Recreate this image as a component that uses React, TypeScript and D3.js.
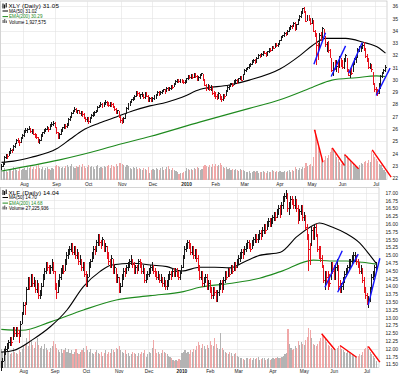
import React from "react";
import * as d3 from "d3";

const monthLabels = ["Aug", "Sep", "Oct", "Nov", "Dec", "2010", "Feb", "Mar", "Apr", "May", "Jun", "Jul"];
const monthStarts = [15, 36, 57, 79, 99, 121, 140, 159, 182, 203, 223, 245];

const xlyClose = [
  23.0,23.1,23.7,23.9,23.8,24.1,24.3,24.2,24.6,24.8,25.1,25.0,24.9,25.3,25.5,
  25.8,25.9,26.0,26.1,25.8,25.9,25.6,25.5,25.3,25.0,25.1,25.5,25.7,25.9,26.0,26.1,26.0,26.3,26.4,26.5,26.2,
  25.7,25.3,25.6,25.9,26.1,26.3,26.2,26.4,26.8,27.0,27.3,27.5,27.6,27.4,27.5,27.3,27.4,27.2,26.9,26.8,26.9,
  26.6,26.9,27.1,27.3,27.4,27.5,27.8,27.9,28.0,27.9,28.1,28.2,28.1,27.9,28.1,28.0,27.8,27.6,27.4,27.5,27.0,26.7,
  26.6,26.9,27.2,27.7,28.0,28.2,28.4,28.5,28.7,29.0,28.9,28.7,28.8,28.8,28.6,28.9,28.7,28.3,28.5,28.4,
  28.5,28.7,28.8,29.0,28.9,29.0,29.1,29.2,29.1,29.3,29.2,29.3,29.5,29.4,29.7,29.9,30.0,29.9,30.0,29.9,29.8,29.9,
  30.1,30.3,30.2,30.4,30.2,30.5,30.3,30.0,30.2,30.4,30.5,30.0,29.6,29.3,29.5,29.2,29.4,28.9,28.8,
  28.7,28.6,28.9,28.5,28.4,28.8,28.7,29.1,29.4,29.5,29.7,29.6,29.9,30.0,29.8,30.1,30.2,30.0,30.4,
  30.8,30.9,31.0,31.2,31.3,31.5,31.6,31.4,31.8,32.0,31.9,32.1,32.3,32.2,32.0,32.3,32.5,32.4,32.7,32.6,32.9,32.8,32.9,
  33.2,33.5,33.6,33.8,33.7,34.0,34.2,34.4,34.3,34.6,34.2,34.5,34.9,35.2,35.5,35.8,35.6,34.8,35.1,35.0,34.6,
  35.0,34.0,33.7,32.8,31.9,33.6,33.5,34.2,33.7,32.9,32.9,32.4,32.0,30.8,31.4,31.0,31.1,30.7,31.9,31.4,
  31.0,31.7,32.0,30.8,30.4,30.7,30.5,31.4,31.7,31.7,32.5,32.6,32.6,32.8,32.5,31.9,31.7,31.0,31.1,30.9,29.7,29.2,
  29.0,28.9,29.2,30.3,30.6,30.8,31.05,
];
const xlyHigh = [
  23.2,23.3,23.8,24.0,24.0,24.2,24.5,24.4,24.7,24.9,25.2,25.3,25.1,25.4,25.6,
  25.9,26.1,26.1,26.3,26.1,26.0,26.0,25.7,25.6,25.4,25.2,25.6,25.8,26.0,26.1,26.3,26.2,26.4,26.6,26.7,26.6,
  26.2,25.8,25.7,26.0,26.2,26.4,26.4,26.5,26.9,27.1,27.4,27.6,27.8,27.7,27.6,27.6,27.5,27.5,27.3,27.0,27.0,
  27.0,27.0,27.2,27.4,27.5,27.6,27.9,28.0,28.2,28.1,28.2,28.4,28.3,28.2,28.2,28.2,28.1,27.9,27.7,27.6,27.5,27.1,
  26.9,27.0,27.3,27.8,28.1,28.3,28.5,28.6,28.8,29.1,29.1,29.0,28.9,29.0,28.9,29.0,29.0,28.8,28.6,28.6,
  28.6,28.8,28.9,29.1,29.1,29.1,29.2,29.3,29.3,29.4,29.4,29.4,29.6,29.6,29.8,30.0,30.1,30.1,30.1,30.1,30.0,30.0,
  30.2,30.4,30.4,30.5,30.5,30.6,30.6,30.4,30.3,30.5,30.6,30.5,30.1,29.7,29.7,29.6,29.6,29.5,29.1,
  29.0,28.9,29.0,28.9,28.7,28.9,28.9,29.2,29.5,29.6,29.8,29.8,30.0,30.1,30.1,30.2,30.3,30.3,30.5,
  30.9,31.0,31.1,31.3,31.4,31.6,31.7,31.7,31.9,32.1,32.1,32.2,32.4,32.4,32.3,32.4,32.6,32.6,32.8,32.8,33.0,33.0,33.0,
  33.3,33.6,33.7,33.9,33.9,34.1,34.3,34.5,34.5,34.7,34.7,34.6,35.0,35.3,35.6,35.9,36.0,35.6,35.3,35.3,35.1,
  35.1,34.9,34.1,33.8,33.0,33.8,33.9,34.3,34.2,33.6,33.1,33.2,32.5,31.8,31.5,31.6,31.6,31.5,32.0,31.8,
  31.6,31.8,32.1,31.8,30.9,30.8,31.0,31.5,31.8,31.9,32.6,32.8,32.8,33.0,33.1,32.6,32.1,31.8,31.4,31.3,30.7,29.8,
  29.4,29.3,29.8,30.4,30.7,30.9,31.2,
];
const xlyLow = [
  22.7,22.9,23.1,23.6,23.6,23.8,24.0,24.1,24.2,24.5,24.8,24.9,24.6,24.9,25.2,
  25.4,25.7,25.7,25.9,25.7,25.6,25.5,25.3,25.2,24.9,24.8,25.0,25.4,25.6,25.8,25.9,25.8,25.9,26.2,26.3,26.1,
  25.6,25.2,25.2,25.5,25.8,26.0,26.0,26.1,26.3,26.7,26.9,27.2,27.4,27.3,27.2,27.2,27.1,27.0,26.8,26.6,26.6,
  26.4,26.5,26.8,27.0,27.1,27.3,27.4,27.7,27.8,27.7,27.8,28.0,27.9,27.8,27.8,27.8,27.7,27.5,27.2,27.2,26.9,26.5,
  26.4,26.5,26.8,27.2,27.6,27.9,28.1,28.3,28.4,28.6,28.7,28.6,28.5,28.6,28.5,28.5,28.6,28.2,28.2,28.2,
  28.2,28.4,28.5,28.7,28.7,28.8,28.9,29.0,28.9,29.0,29.1,29.1,29.2,29.3,29.4,29.6,29.8,29.8,29.8,29.8,29.7,29.7,
  29.8,30.0,30.1,30.1,30.1,30.2,30.2,29.9,29.9,30.1,30.3,29.9,29.5,29.1,29.2,29.1,29.1,28.8,28.6,
  28.5,28.4,28.5,28.4,28.2,28.3,28.5,28.7,29.0,29.2,29.4,29.4,29.6,29.8,29.7,29.8,30.0,29.9,30.0,
  30.4,30.7,30.8,30.9,31.1,31.2,31.4,31.3,31.4,31.7,31.8,31.9,32.0,32.1,31.9,32.0,32.2,32.3,32.4,32.5,32.6,32.7,32.7,
  32.9,33.2,33.4,33.5,33.6,33.7,33.9,34.1,34.2,34.3,34.0,34.1,34.5,34.8,35.1,35.4,35.5,34.7,34.8,34.8,34.5,
  34.6,33.9,33.5,31.2,31.6,32.6,33.2,33.4,33.6,32.7,32.3,32.2,31.8,30.7,30.3,30.8,30.7,30.6,31.0,31.1,
  30.9,30.9,31.5,30.7,30.3,30.2,30.4,30.7,31.2,31.4,31.8,32.3,32.3,32.5,32.4,31.8,31.5,30.9,30.9,30.7,29.6,29.0,
  28.8,28.7,28.9,29.3,30.2,30.5,30.7,
];
const xlyVolume = [
  2.2,2.0,2.4,1.8,1.6,1.9,2.0,1.7,2.6,2.1,1.9,1.8,2.3,2.0,2.2,
  2.4,2.0,2.6,2.3,2.8,2.1,2.5,2.2,2.7,3.0,2.4,2.2,2.5,2.0,2.3,2.6,2.1,1.9,2.4,2.2,2.8,
  3.0,2.7,2.5,2.3,2.6,2.4,2.8,2.9,2.5,2.7,3.1,2.6,2.4,2.8,2.5,2.9,2.6,3.2,2.7,2.4,2.6,
  3.0,2.6,2.8,2.5,2.2,2.7,2.9,2.4,2.6,2.3,2.8,2.5,2.7,2.9,2.4,3.0,2.8,2.6,3.1,2.7,3.3,3.4,
  3.2,2.9,2.6,3.0,2.7,2.4,2.2,2.5,2.3,2.6,2.1,2.4,2.2,2.0,2.3,2.1,1.9,2.6,1.4,2.0,
  2.2,2.0,2.4,2.1,1.9,2.3,2.5,2.0,2.2,2.6,2.8,2.1,1.9,2.3,2.0,1.7,1.5,1.2,1.4,1.3,1.6,1.8,
  2.3,2.1,2.0,2.2,1.9,2.4,2.1,2.6,2.3,2.0,2.2,2.8,3.0,2.7,2.5,2.9,2.6,3.2,2.8,
  3.1,2.7,2.9,3.3,3.0,2.6,2.4,2.5,2.2,2.3,2.0,2.1,1.9,2.2,2.0,1.8,2.1,1.9,2.0,
  1.8,1.6,1.5,1.7,1.4,1.6,1.8,1.5,1.7,1.4,1.6,1.5,1.8,1.6,1.4,1.7,1.5,1.6,1.9,1.7,1.5,1.8,1.6,
  1.7,1.5,1.6,1.8,1.5,1.7,1.9,1.6,2.0,1.8,2.6,2.2,2.0,2.4,2.2,2.5,2.3,3.4,2.8,3.0,3.2,
  2.8,4.6,10.0,8.6,7.0,5.8,4.6,3.6,4.0,4.8,4.4,5.0,5.6,6.4,6.0,5.2,4.6,4.2,3.6,3.2,
  3.8,5.0,4.6,4.8,4.2,3.8,3.4,3.2,2.8,2.6,2.4,3.0,3.4,3.2,3.6,3.8,3.4,4.0,3.6,5.8,5.2,4.6,
  4.2,3.8,3.2,3.0,2.4,2.0,1.6,
];
const xlyMa50 = [[0,23.3],[8,23.4],[19,23.7],[36,24.4],[45,25.2],[53,25.9],[64,26.5],[75,27.0],[86,27.5],[97,27.9],[108,28.2],[118,28.6],[130,29.25],[149,29.6],[162,30.0],[182,30.9],[195,32.0],[203,32.8],[212,33.4],[225,33.4],[236,33.1],[247,32.6],[251,32.2]];
const xlyEma200 = [[0,22.6],[38,23.5],[64,24.3],[75,24.7],[97,25.4],[130,26.6],[162,27.7],[182,28.4],[203,29.4],[216,30.0],[232,30.2],[245,30.35],[251,30.3]];
const xlyTrendLines = [[204.2,31.3,211.8,33.87],[215.5,30.29,224.9,32.79],[227.0,30.57,235.8,33.06],[244.9,28.75,254.0,30.98]];
const xlyVolumeLines = [[204.6,9.94,210.1,3.46],[216.2,6.34,224.2,2.8],[224.2,5.0,233.4,2.14],[242.3,5.94,254.7,0.46]];
const xlyTicks = [22,23,24,25,26,27,28,29,30,31,32,33,34,35,36];

const xlfClose = [
  11.5,11.6,11.9,12.0,12.0,12.2,12.3,12.2,12.6,12.5,12.6,12.5,12.4,12.8,13.1,
  13.4,13.3,13.9,14.2,14.0,14.3,14.1,14.2,13.9,14.1,13.7,13.8,14.0,14.3,14.5,14.7,14.6,14.5,14.6,14.8,14.5,
  14.0,13.8,14.1,14.3,14.5,14.6,14.5,14.8,15.0,15.1,15.2,15.3,15.1,15.2,15.0,15.1,14.8,14.9,14.6,14.7,14.4,
  14.1,14.3,14.7,14.8,15.0,15.2,15.1,15.4,15.6,15.4,15.3,15.5,15.2,15.3,15.0,14.8,14.7,14.9,14.5,14.6,14.2,14.3,
  13.9,14.0,14.3,14.5,14.4,14.6,14.7,14.8,14.9,14.7,14.5,14.6,14.5,14.8,14.7,14.5,14.6,14.2,14.3,14.4,
  14.5,14.6,14.7,14.5,14.4,14.3,14.4,14.2,14.3,14.1,14.2,14.0,14.1,14.3,14.4,14.3,14.5,14.4,14.5,14.4,14.3,14.4,
  14.6,14.9,15.2,15.3,15.4,15.3,15.1,15.2,15.0,15.1,14.9,14.6,14.3,14.4,14.1,14.2,14.3,14.0,14.1,
  13.9,13.7,13.9,13.8,13.6,13.8,14.0,14.1,13.9,14.2,14.4,14.3,14.5,14.4,14.6,14.5,14.7,14.6,14.8,
  14.9,15.0,15.1,15.0,15.2,15.3,15.4,15.3,15.2,15.4,15.5,15.6,15.5,15.6,15.7,15.6,15.8,15.9,15.8,16.0,16.1,16.0,16.1,
  16.2,16.3,16.2,16.4,16.5,16.3,16.6,16.8,16.9,17.0,16.5,16.6,16.8,16.7,16.6,16.8,16.5,16.1,16.4,16.5,16.2,
  16.3,15.9,15.6,15.2,14.9,15.8,15.6,15.9,15.7,15.2,15.1,14.9,14.7,14.2,14.4,14.3,14.2,14.1,14.7,14.5,
  14.3,14.6,14.8,14.0,13.9,14.0,14.1,14.4,14.5,14.6,14.8,14.8,14.9,15.0,15.0,14.8,14.7,14.5,14.5,14.2,13.9,13.7,
  13.5,13.6,13.9,14.3,14.4,14.6,14.64,
];
const xlfHigh = [
  11.6,11.7,12.0,12.1,12.2,12.3,12.4,12.4,12.7,12.7,12.7,12.7,12.6,12.9,13.2,
  13.5,13.5,14.0,14.3,14.3,14.4,14.4,14.3,14.2,14.2,14.1,13.9,14.1,14.4,14.6,14.8,14.8,14.7,14.7,14.9,14.8,
  14.5,14.1,14.2,14.4,14.6,14.7,14.7,14.9,15.1,15.2,15.3,15.4,15.4,15.3,15.3,15.2,15.1,15.0,14.9,14.8,14.8,
  14.5,14.4,14.8,14.9,15.1,15.3,15.3,15.5,15.7,15.7,15.5,15.6,15.5,15.4,15.3,15.1,14.9,15.0,14.9,14.7,14.6,14.4,
  14.3,14.1,14.4,14.6,14.6,14.7,14.8,14.9,15.0,14.9,14.8,14.7,14.7,14.9,14.9,14.8,14.7,14.6,14.4,14.5,
  14.6,14.7,14.8,14.7,14.6,14.5,14.5,14.4,14.4,14.3,14.3,14.2,14.2,14.4,14.5,14.5,14.6,14.6,14.6,14.6,14.5,14.5,
  14.7,15.0,15.3,15.4,15.5,15.5,15.4,15.3,15.3,15.2,15.2,15.0,14.7,14.5,14.5,14.3,14.4,14.4,14.2,
  14.2,14.0,14.0,14.0,13.9,13.9,14.1,14.2,14.2,14.3,14.5,14.5,14.6,14.6,14.7,14.7,14.8,14.8,14.9,
  15.0,15.1,15.2,15.2,15.3,15.4,15.5,15.5,15.4,15.5,15.6,15.7,15.7,15.7,15.8,15.8,15.9,16.0,16.0,16.1,16.2,16.2,16.2,
  16.3,16.4,16.4,16.5,16.6,16.6,16.7,16.9,17.0,17.1,17.0,16.7,16.9,16.9,16.8,16.9,16.8,16.6,16.5,16.6,16.6,
  16.4,16.3,16.0,15.7,15.4,15.9,15.9,16.0,16.0,15.7,15.3,15.3,15.0,14.7,14.5,14.5,14.5,14.4,14.8,14.8,
  14.7,14.7,14.9,14.7,14.2,14.1,14.3,14.5,14.6,14.7,14.9,14.9,15.0,15.1,15.1,15.0,14.9,14.8,14.7,14.6,14.3,14.0,
  13.8,13.7,14.0,14.4,14.5,14.7,14.8,
];
const xlfLow = [
  11.3,11.4,11.6,11.8,11.9,12.0,12.1,12.1,12.3,12.4,12.4,12.4,12.2,12.4,12.8,
  13.1,13.1,13.4,13.9,13.9,14.0,14.0,14.0,13.8,13.8,13.6,13.6,13.7,14.0,14.2,14.4,14.5,14.4,14.4,14.5,14.4,
  13.9,13.6,13.8,14.0,14.2,14.4,14.4,14.5,14.7,14.9,15.0,15.1,15.0,15.0,14.9,14.9,14.7,14.7,14.5,14.5,14.3,
  14.0,14.0,14.3,14.6,14.8,14.9,15.0,15.1,15.3,15.3,15.2,15.3,15.1,15.1,14.9,14.7,14.6,14.6,14.4,14.4,14.1,14.1,
  13.8,13.8,14.0,14.2,14.3,14.4,14.5,14.6,14.7,14.6,14.4,14.4,14.4,14.5,14.6,14.4,14.4,14.1,14.1,14.2,
  14.3,14.4,14.5,14.4,14.3,14.2,14.2,14.1,14.1,14.0,14.0,13.9,13.9,14.0,14.2,14.2,14.3,14.3,14.3,14.3,14.2,14.2,
  14.4,14.6,14.9,15.1,15.2,15.2,15.0,15.0,14.9,14.9,14.8,14.5,14.2,14.2,14.0,14.0,14.1,13.9,13.9,
  13.8,13.6,13.6,13.7,13.5,13.5,13.7,13.9,13.8,13.9,14.1,14.2,14.3,14.3,14.4,14.4,14.5,14.5,14.6,
  14.7,14.8,14.9,14.9,15.0,15.1,15.2,15.2,15.1,15.2,15.3,15.4,15.4,15.4,15.5,15.5,15.6,15.7,15.7,15.8,15.9,15.9,15.9,
  16.0,16.1,16.1,16.2,16.3,16.2,16.3,16.5,16.7,16.8,16.4,16.3,16.5,16.6,16.5,16.5,16.4,16.0,16.1,16.3,16.1,
  16.1,15.8,15.5,14.5,14.7,15.3,15.5,15.5,15.6,15.1,14.9,14.8,14.6,14.1,13.9,14.1,13.9,14.0,14.2,14.4,
  14.2,14.2,14.5,13.9,13.8,13.8,13.9,14.1,14.3,14.4,14.5,14.6,14.7,14.8,14.8,14.7,14.6,14.4,14.4,14.1,13.8,13.6,
  13.4,13.3,13.5,13.9,14.2,14.3,14.5,
];
const xlfVolume = [
  140,120,150,110,130,120,100,110,150,120,110,100,130,120,140,
  160,180,220,160,280,200,170,150,190,220,170,150,160,140,180,150,130,120,150,160,200,
  180,150,130,120,140,110,130,150,120,140,110,130,100,120,140,110,100,120,130,150,120,
  160,130,120,140,110,100,120,130,110,100,120,90,110,130,100,120,110,140,130,120,150,140,
  160,130,120,110,130,100,110,90,100,120,110,100,90,110,100,120,110,130,80,100,
  120,110,150,210,140,110,120,100,110,130,120,110,100,90,80,70,60,50,55,50,65,60,
  110,120,130,110,120,100,130,120,140,130,160,190,170,150,180,160,140,170,150,
  200,170,160,220,180,150,140,260,150,130,120,110,100,120,110,90,100,110,90,
  80,70,75,65,60,70,75,65,70,60,75,65,70,80,60,65,70,75,60,65,70,60,65,
  70,65,75,80,70,75,80,85,100,110,290,180,150,130,140,160,150,200,170,190,180,
  170,210,230,300,280,220,180,170,160,180,200,220,250,240,220,190,170,160,150,140,
  130,140,150,160,165,140,130,120,110,125,115,100,105,95,85,80,90,100,95,120,140,150,
  160,140,120,100,90,70,50,
];
const xlfMa50 = [[0,11.9],[8,11.95],[21,12.3],[33,12.72],[44,13.25],[55,14.0],[66,14.48],[74,14.69],[88,14.75],[100,14.69],[111,14.64],[121,14.5],[133,14.62],[143,14.62],[153,14.6],[163,14.8],[173,15.0],[187,15.1],[198,15.6],[209,15.97],[213,16.04],[222,15.9],[231,15.7],[240,15.4],[247,15.0],[251,14.75]];
const xlfEma200 = [[0,12.63],[14,12.6],[33,12.87],[55,13.25],[77,13.57],[100,13.71],[122,13.84],[133,13.98],[153,14.1],[173,14.27],[187,14.48],[209,14.85],[220,14.82],[231,14.82],[242,14.78],[251,14.72]];
const xlfTrendLines = [[216.8,13.98,228.4,15.15],[225.3,13.82,239.1,15.04],[245.8,13.41,253.6,14.91]];
const xlfVolumeLines = [[214.6,252.75,223.5,132.75],[226.9,165,238.0,77.25],[245.8,157.5,253.6,39.75]];
const xlfTicks = [11.5,11.75,12,12.25,12.5,12.75,13,13.25,13.5,13.75,14,14.25,14.5,14.75,15,15.25,15.5,15.75,16,16.25,16.5,16.75,17];

const FONT = "'Liberation Sans', Arial, sans-serif";

type Cfg = {
  top: number; bottom: number; left: number; right: number;
  xRange: [number, number]; yDomain: [number, number]; yRange: [number, number];
  volMax: number; volHeight: number; ticks: number[]; fmt: (v: number) => string;
  close: number[]; high: number[]; low: number[]; vol: number[];
  ma: number[][]; ema: number[][]; trend: number[][]; volLines: number[][];
  title: string; maText: string; emaText: string; volText: string; labelY: number;
};

function Panel({ c }: { c: Cfg }) {
  const n = Math.min(c.close.length, c.high.length, c.low.length, c.vol.length);
  const x = d3.scaleLinear().domain([0, 251]).range(c.xRange);
  const y = d3.scaleLinear().domain(c.yDomain).range(c.yRange);
  const v = d3.scaleLinear().domain([0, c.volMax]).range([c.bottom, c.bottom - c.volHeight]);
  const line = d3.line<number[]>().x((d) => x(d[0])).y((d) => y(d[1])).curve(d3.curveMonotoneX);
  const step = x(1) - x(0);
  const bars = d3.range(n);
  const up = (i: number) => i === 0 || c.close[i] >= c.close[i - 1];
  const t = c.top;
  return (
    <g>
      <rect x={c.left} y={c.top} width={c.right - c.left} height={c.bottom - c.top} fill="#fff" stroke="#b8b8b8" strokeWidth={0.6} />
      <g stroke="#e2e2e2" strokeWidth={0.6} shapeRendering="crispEdges">
        {c.ticks.map((tk) => (
          <line key={"h" + tk} x1={c.left} x2={c.right} y1={y(tk)} y2={y(tk)} />
        ))}
        {monthStarts.map((m) => (
          <line key={"v" + m} x1={x(m) - step / 2} x2={x(m) - step / 2} y1={c.top} y2={c.bottom} />
        ))}
      </g>
      <g shapeRendering="crispEdges">
        {bars.map((i) => (
          <rect key={"v" + i} x={x(i) - 0.5} y={v(c.vol[i])} width={1.1} height={c.bottom - v(c.vol[i])}
            fill={up(i) ? "#b3b3b3" : "#f0a8a8"} />
        ))}
      </g>
      <path d={line(c.ema) || ""} fill="none" stroke="#1e8a1e" strokeWidth={1.1} />
      <path d={line(c.ma) || ""} fill="none" stroke="#000" strokeWidth={1.1} />
      <g shapeRendering="crispEdges">
        {bars.map((i) => {
          const col = up(i) ? "#1a1a1a" : "#e8101c";
          const xi = x(i);
          return (
            <g key={"b" + i}>
              <line x1={xi} x2={xi} y1={y(c.high[i])} y2={y(c.low[i])} stroke={col} strokeWidth={1} />
              <line x1={xi} x2={xi + 1} y1={y(c.close[i])} y2={y(c.close[i])} stroke={col} strokeWidth={1} />
            </g>
          );
        })}
      </g>
      {c.trend.map((d, k) => (
        <line key={"t" + k} x1={x(d[0])} y1={y(d[1])} x2={x(d[2])} y2={y(d[3])} stroke="#1414ff" strokeWidth={1.4} />
      ))}
      {c.volLines.map((d, k) => (
        <line key={"r" + k} x1={x(d[0])} y1={v(d[1])} x2={x(d[2])} y2={v(d[3])} stroke="#ff0000" strokeWidth={1.4} />
      ))}
      {c.ticks.map((tk) => (
        <text key={"l" + tk} x={398} y={y(tk) + 1.8} fontSize={5} textAnchor="end" fill="#222" fontFamily={FONT}>{c.fmt(tk)}</text>
      ))}
      {monthStarts.map((m, k) => (
        <text key={"m" + m} x={x(m)} y={c.labelY} fontSize={4.8} textAnchor="middle" fill="#222"
          fontWeight={monthLabels[k] === "2010" ? "bold" : "normal"} fontFamily={FONT}>{monthLabels[k]}</text>
      ))}
      <g>
        <rect x={c.left + 2} y={t + 2.5} width={1} height={5} fill="#000" />
        <rect x={c.left + 3.6} y={t + 3.5} width={1} height={4} fill="#000" />
        <rect x={c.left + 5.2} y={t + 2} width={1} height={4.5} fill="#000" />
        <text x={c.left + 8} y={t + 7.3} fontSize={6.2} fill="#000" fontFamily={FONT} letterSpacing={0.15}>{c.title}</text>
        <line x1={c.left + 2} x2={c.left + 7.5} y1={t + 10} y2={t + 10} stroke="#000" strokeWidth={1} />
        <text x={c.left + 8.5} y={t + 11.6} fontSize={4.6} fill="#000" fontFamily={FONT}>{c.maText}</text>
        <line x1={c.left + 2} x2={c.left + 7.5} y1={t + 15.6} y2={t + 15.6} stroke="#1e8a1e" strokeWidth={1} />
        <text x={c.left + 8.5} y={t + 17.3} fontSize={4.6} fill="#1e8a1e" fontFamily={FONT}>{c.emaText}</text>
        <rect x={c.left + 2} y={t + 19} width={1.2} height={3} fill="#666" />
        <rect x={c.left + 3.6} y={t + 18} width={1.2} height={4} fill="#666" />
        <rect x={c.left + 5.2} y={t + 19.5} width={1.2} height={2.5} fill="#666" />
        <text x={c.left + 8.5} y={t + 22.6} fontSize={4.6} fill="#000" fontFamily={FONT}>{c.volText}</text>
      </g>
    </g>
  );
}

export default function App() {
  const topCfg: Cfg = {
    top: 1, bottom: 179.5, left: 0.5, right: 387, xRange: [1.5, 385.5],
    yDomain: [22, 36], yRange: [178.3, 6.5], volMax: 10, volHeight: 50,
    ticks: xlyTicks, fmt: (d) => String(d),
    close: xlyClose, high: xlyHigh, low: xlyLow, vol: xlyVolume,
    ma: xlyMa50, ema: xlyEma200, trend: xlyTrendLines, volLines: xlyVolumeLines,
    title: "XLY (Daily) 31.05", maText: "MA(50) 31.02", emaText: "EMA(200) 30.29", volText: "Volume 1,927,575",
    labelY: 186,
  };
  const botCfg: Cfg = {
    top: 187.5, bottom: 367.5, left: 0.5, right: 379, xRange: [1.3, 376],
    yDomain: [11.5, 17], yRange: [364.6, 193], volMax: 300, volHeight: 40,
    ticks: xlfTicks, fmt: (d) => d.toFixed(2),
    close: xlfClose, high: xlfHigh, low: xlfLow, vol: xlfVolume,
    ma: xlfMa50, ema: xlfEma200, trend: xlfTrendLines, volLines: xlfVolumeLines,
    title: "XLF (Daily) 14.04", maText: "MA(50) 14.70", emaText: "EMA(200) 14.68", volText: "Volume 27,225,936",
    labelY: 372.8,
  };
  return (
    <svg width={400} height={375} viewBox="0 0 400 375" style={{ display: "block", position: "absolute", left: 0, top: 0, background: "#fff" }}>
      <rect x={0} y={0} width={400} height={375} fill="#fff" />
      <Panel c={topCfg} />
      <Panel c={botCfg} />
    </svg>
  );
}
